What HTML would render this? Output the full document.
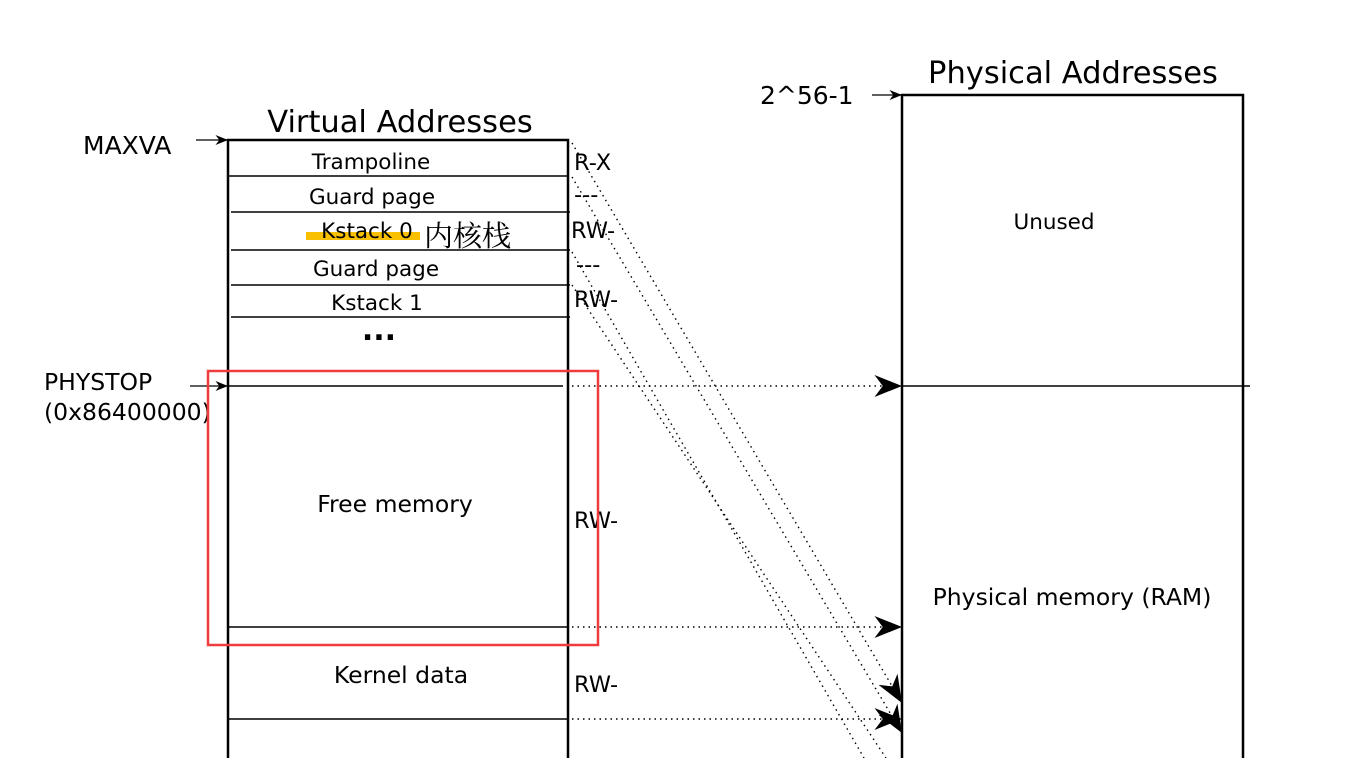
<!DOCTYPE html>
<html><head><meta charset="utf-8"><style>
html,body{margin:0;padding:0;background:#fff;width:1368px;height:758px;overflow:hidden}
svg text{font-family:"DejaVu Sans","Liberation Sans",sans-serif;fill:#000}
</style></head><body>
<svg width="1368" height="758" viewBox="0 0 1368 758" xmlns="http://www.w3.org/2000/svg">
<defs>
<marker id="a" viewBox="0 0 10 8" refX="10" refY="4" markerUnits="userSpaceOnUse" markerWidth="28" markerHeight="22" orient="auto"><path d="M0,0 L10,4 L0,8 L3,4 Z" fill="#000"/></marker>
<marker id="b" viewBox="0 0 10 8" refX="10" refY="4" markerUnits="userSpaceOnUse" markerWidth="14" markerHeight="10" orient="auto"><path d="M0,0 L10,4 L0,8 L3,4 Z" fill="#000"/></marker>
</defs>
<text x="400" y="132" font-size="30.5" text-anchor="middle">Virtual Addresses</text>
<text x="1073" y="83" font-size="30.5" text-anchor="middle">Physical Addresses</text>
<text x="83" y="154" font-size="25">MAXVA</text>
<text x="760" y="104" font-size="25">2^56-1</text>
<text x="44" y="390" font-size="23.5">PHYSTOP</text>
<text x="44" y="420" font-size="23.5">(0x86400000)</text>
<line x1="196" y1="140" x2="228" y2="140" stroke="#000" stroke-width="1.3" marker-end="url(#b)"/>
<line x1="872" y1="95" x2="902" y2="95" stroke="#000" stroke-width="1.3" marker-end="url(#b)"/>
<line x1="190" y1="386" x2="228" y2="386" stroke="#000" stroke-width="1.3" marker-end="url(#b)"/>
<g stroke="#000" stroke-width="2.5" fill="none">
<path d="M228,758 V140 H568 V758"/>
<path d="M902,758 V95 H1243 V758"/>
</g>
<g stroke="#000" stroke-width="1.5">
<line x1="228" y1="176" x2="568" y2="176"/>
<line x1="231" y1="212" x2="570" y2="212"/>
<line x1="231" y1="250" x2="570" y2="250"/>
<line x1="231" y1="285" x2="570" y2="285"/>
<line x1="231" y1="317" x2="570" y2="317"/>
<line x1="228" y1="386" x2="563" y2="386"/>
<line x1="228" y1="627" x2="568" y2="627"/>
<line x1="228" y1="719" x2="568" y2="719"/>
<line x1="902" y1="386" x2="1250" y2="386"/>
</g>
<rect x="306" y="232" width="114" height="8" fill="#f8c000"/>
<g font-size="21.5" text-anchor="middle">
<text x="371" y="169">Trampoline</text>
<text x="372" y="204">Guard page</text>
<text x="367" y="238">Kstack 0</text>
<text x="376" y="276">Guard page</text>
<text x="377" y="310">Kstack 1</text>
<text x="395" y="512" font-size="23.5">Free memory</text>
<text x="401" y="683" font-size="23.5">Kernel data</text>
<text x="1054" y="229">Unused</text>
<text x="1072" y="605" font-size="23.5">Physical memory (RAM)</text>
</g>
<text x="379" y="340" font-size="30" font-weight="bold" text-anchor="middle">...</text>
<text x="424" y="246" font-size="29" style="font-family:'Noto Serif CJK SC','Noto Sans CJK SC',serif" fill="#333">内核栈</text>
<g font-size="22.5">
<text x="574" y="170">R-X</text>
<text x="574" y="202">---</text>
<text x="571" y="238">RW-</text>
<text x="576" y="272">---</text>
<text x="574" y="307">RW-</text>
<text x="574" y="528">RW-</text>
<text x="574" y="692">RW-</text>
</g>
<g stroke="#000" stroke-width="1.4" stroke-dasharray="1.5,4" fill="none">
<line x1="572" y1="386" x2="902" y2="386" marker-end="url(#a)"/>
<line x1="572" y1="627" x2="902" y2="627" marker-end="url(#a)"/>
<line x1="572" y1="719" x2="902" y2="719" marker-end="url(#a)"/>
<line x1="572" y1="143" x2="902" y2="703" marker-end="url(#a)"/>
<line x1="572" y1="177" x2="902" y2="733" marker-end="url(#a)"/>
<line x1="572" y1="252" x2="864" y2="758"/>
<line x1="572" y1="285" x2="886" y2="758"/>
</g>
<rect x="208" y="371" width="390" height="274" fill="none" stroke="#ee3b3b" stroke-width="2.5"/>
</svg>
</body></html>
